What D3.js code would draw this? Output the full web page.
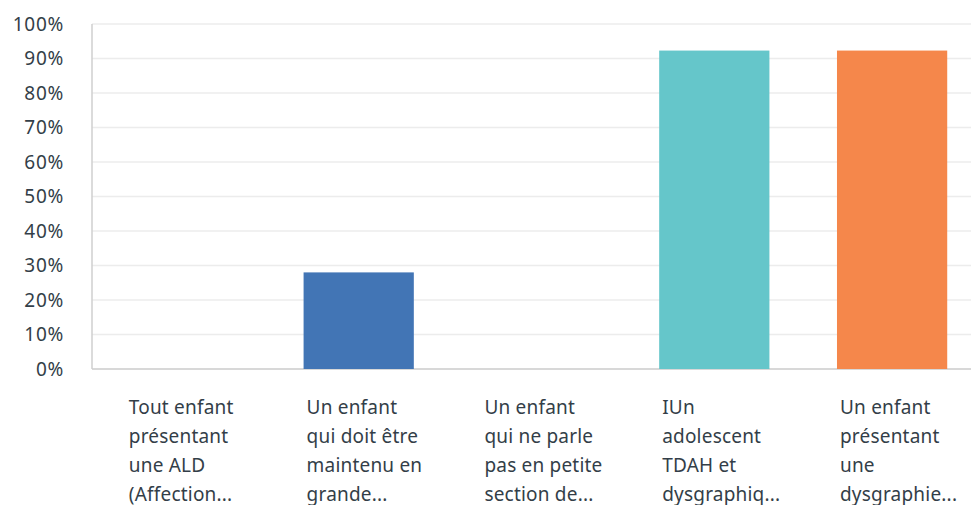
<!DOCTYPE html>
<meta charset="utf-8">
<script src="https://d3js.org/d3.v7.js"></script>
<style>
  body { margin: 0; background: #fff; }
  text { font-family: "Noto Sans", "Open Sans", sans-serif; fill: #333e48; }
</style>
<div id="chart"></div>
<script>

// categories (already cut to 4 lines, as in the survey export)
const labels = [
  ["Tout enfant", "présentant", "une ALD", "(Affection..."],
  ["Un enfant", "qui doit être", "maintenu en", "grande..."],
  ["Un enfant", "qui ne parle", "pas en petite", "section de..."],
  ["IUn", "adolescent", "TDAH et", "dysgraphiq..."],
  ["Un enfant", "présentant", "une", "dysgraphie..."]
];
const values = [0, 28, 0, 92.3, 92.3];
const colors = ["#6bc8cd", "#4275b5", "#6bc8cd", "#65c6ca", "#f5874b"];
const yTicks = [0, 10, 20, 30, 40, 50, 60, 70, 80, 90, 100];

const W = 971, H = 505;
const margin = {top: 24, right: -10, bottom: 136, left: 92};
const width = W - margin.left - margin.right,
      height = H - margin.top - margin.bottom;

const svg = d3.select("#chart").append("svg")
    .attr("width", W).attr("height", H)
  .append("g")
    .attr("transform", `translate(${margin.left},${margin.top})`);

const x = d3.scaleBand()
  .domain(d3.range(values.length))
  .range([0, width])
  .paddingInner(0.38)
  .paddingOuter(0.19);

const y = d3.scaleLinear()
  .domain([0, 100])
  .range([height, 0]);

// gridlines
svg.selectAll(".grid")
  .data(yTicks)
  .join("line")
    .attr("class", "grid")
    .attr("x1", 0).attr("x2", width)
    .attr("y1", d => y(d)).attr("y2", d => y(d))
    .attr("stroke", "#ececec")
    .attr("stroke-width", 1.5);

// y axis labels
const yAxis = svg.append("g")
  .call(d3.axisLeft(y).tickValues(yTicks).tickFormat(d => d + "%").tickSize(0).tickPadding(28));
yAxis.select(".domain").remove();
yAxis.selectAll("text")
  .style("font-size", "19px")
  .style("letter-spacing", "0.7px")
  .style("fill", "#333e48");

// axis lines
svg.append("line")
  .attr("x1", 0).attr("x2", 0)
  .attr("y1", 0).attr("y2", height)
  .attr("stroke", "#cfcfcf").attr("stroke-width", 1.5);
svg.append("line")
  .attr("x1", 0).attr("x2", width)
  .attr("y1", height).attr("y2", height)
  .attr("stroke", "#cfcfcf").attr("stroke-width", 1.5);

// bars
svg.selectAll(".bar")
  .data(values)
  .join("rect")
    .attr("class", "bar")
    .attr("x", (d, i) => x(i))
    .attr("width", x.bandwidth())
    .attr("y", d => y(d))
    .attr("height", d => height - y(d))
    .attr("fill", (d, i) => colors[i]);

// x labels, left aligned on each bar
const lab = svg.selectAll(".xlab")
  .data(labels)
  .join("text")
    .attr("class", "xlab")
    .attr("transform", (d, i) => `translate(${x(i) + 3},${height + 45})`)
    .style("font-size", "19px")
    .style("letter-spacing", "0.2px");
lab.selectAll("tspan")
  .data(d => d)
  .join("tspan")
    .attr("x", 0)
    .attr("y", (d, j) => j * 29)
    .text(d => d);

</script>
